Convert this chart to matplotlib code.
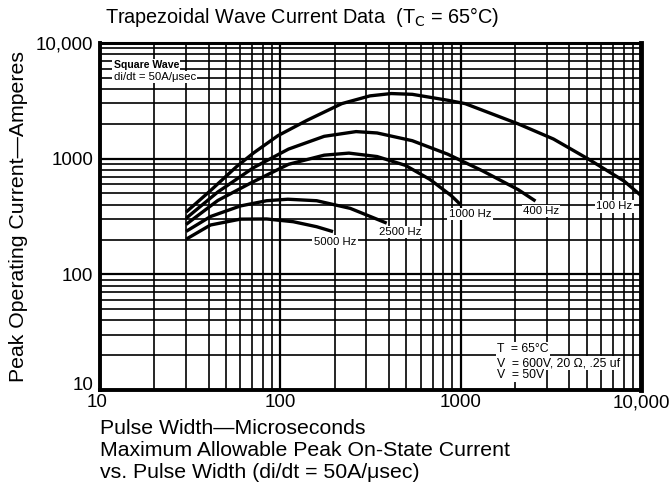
import matplotlib
matplotlib.use("Agg")
import matplotlib.pyplot as plt
from matplotlib.ticker import FixedLocator, LogLocator, NullFormatter
from matplotlib.transforms import ScaledTranslation

plt.rcParams['font.family'] = ['Liberation Sans', 'DejaVu Sans']

# Pulse width (microseconds) and peak current (A) for each repetition rate
x_100 = [30, 41, 57, 71, 97, 140, 219, 314, 412, 539, 847, 1060, 2083, 3270, 5130, 8060, 10000]
y_100 = [345, 530, 850, 1120, 1581, 2138, 2990, 3490, 3656, 3600, 3200, 2990, 2000, 1479, 988, 640, 480]

x_400 = [30, 45, 71, 111, 175, 263, 344, 539, 847, 1327, 2083, 2600]
y_400 = [305, 515, 836, 1210, 1560, 1714, 1668, 1430, 1094, 782, 540, 430]

x_1000 = [30, 45, 68, 111, 175, 240, 344, 493, 676, 885, 1000]
y_1000 = [270, 435, 612, 894, 1072, 1117, 1043, 876, 661, 480, 400]

x_2500 = [30, 41, 60, 84, 110, 159, 244, 389]
y_2500 = [235, 316, 390, 433, 446, 433, 372, 277]

x_5000 = [30, 41, 60, 84, 118, 159, 196]
y_5000 = [201, 267, 300, 301, 285, 258, 234]

series = [(x_100, y_100), (x_400, y_400), (x_1000, y_1000), (x_2500, y_2500), (x_5000, y_5000)]

curve_labels = ["100 Hz", "400 Hz", "1000 Hz", "2500 Hz", "5000 Hz"]
label_x = [7100, 2790, 1127, 461, 201]
label_y = [388, 353, 333, 232, 191]

tick_vals = [10, 100, 1000, 10000]
tick_text = ["10", "100", "1000", "10,000"]

fig = plt.figure(figsize=(6.7, 4.87), dpi=100)
ax = fig.add_axes([100/670, 1-390/487, 541/670, 347/487])
ax.set_xscale('log')
ax.set_yscale('log')
ax.set_xlim(10, 10000)
ax.set_ylim(10, 10000)

ax.xaxis.set_major_locator(FixedLocator(tick_vals))
ax.yaxis.set_major_locator(FixedLocator(tick_vals))
ax.xaxis.set_minor_locator(LogLocator(base=10, subs=range(2, 10)))
ax.yaxis.set_minor_locator(LogLocator(base=10, subs=range(2, 10)))
ax.xaxis.set_minor_formatter(NullFormatter())
ax.yaxis.set_minor_formatter(NullFormatter())
ax.set_xticklabels(tick_text)
ax.set_yticklabels(tick_text)
ax.tick_params(which='both', length=0, labelsize=13.5)
ax.tick_params(axis='x', pad=3)
ax.tick_params(axis='y', pad=5)

# lift the lowest y label a little, as in the reference, so it clears the x "10"
lbl = ax.get_yticklabels()[0]
lbl.set_transform(lbl.get_transform() + ScaledTranslation(0, 7/100, fig.dpi_scale_trans))
xl = ax.get_xticklabels()[0]
xl.set_transform(xl.get_transform() + ScaledTranslation(-3/100, 0, fig.dpi_scale_trans))

ax.grid(which='major', color='black', lw=1.6)
ax.grid(which='minor', color='black', lw=1.2)
ax.set_axisbelow(True)

for side, w in [('left', 2.8), ('bottom', 2.8), ('right', 3.5), ('top', 2.2)]:
    ax.spines[side].set_linewidth(w)

for xs, ys in series:
    ax.plot(xs, ys, color='black', lw=2.4, solid_capstyle='butt', zorder=3)

bb = dict(facecolor='white', edgecolor='none', pad=1.0)
for t, lx, ly in zip(curve_labels, label_x, label_y):
    ax.text(lx, ly, t, fontsize=8.2, ha='center', va='center', bbox=bb, zorder=4)

ax.text(11.9, 6460, "Square Wave", fontsize=7.6, fontweight='bold', ha='left', va='center', bbox=bb, zorder=4)
ax.text(11.9, 5080, "di/dt = 50A/\u03bcsec", fontsize=8.2, ha='left', va='center', bbox=bb, zorder=4)

ax.text(1593, 22.4, "T  = 65\u00b0C", fontsize=8.8, ha='left', va='center', bbox=bb, zorder=4)
ax.text(1593, 17.1, "V  = 600V, 20 \u03a9, .25 uf", fontsize=8.8, ha='left', va='center', bbox=bb, zorder=4)
ax.text(1593, 13.5, "V  = 50V", fontsize=8.8, ha='left', va='center', bbox=bb, zorder=4)

fig.text(302/670, 1-17/487, "Trapezoidal Wave Current Data  (T$_{\\mathrm{C}}$ = 65\u00b0C)",
         fontsize=14.3, ha='center', va='center')
fig.text(19/670, 1-217/487, "Peak Operating Current\u2014Amperes", fontsize=15.3,
         rotation=90, ha='center', va='center')
fig.text(100/670, 1-428/487, "Pulse Width\u2014Microseconds", fontsize=15.3, ha='left', va='center')
fig.text(100/670, 1-450/487, "Maximum Allowable Peak On-State Current", fontsize=15.3, ha='left', va='center')
fig.text(100/670, 1-472/487, "vs. Pulse Width (di/dt = 50A/\u03bcsec)", fontsize=15.3, ha='left', va='center')

fig.savefig("out.png", dpi=100)
